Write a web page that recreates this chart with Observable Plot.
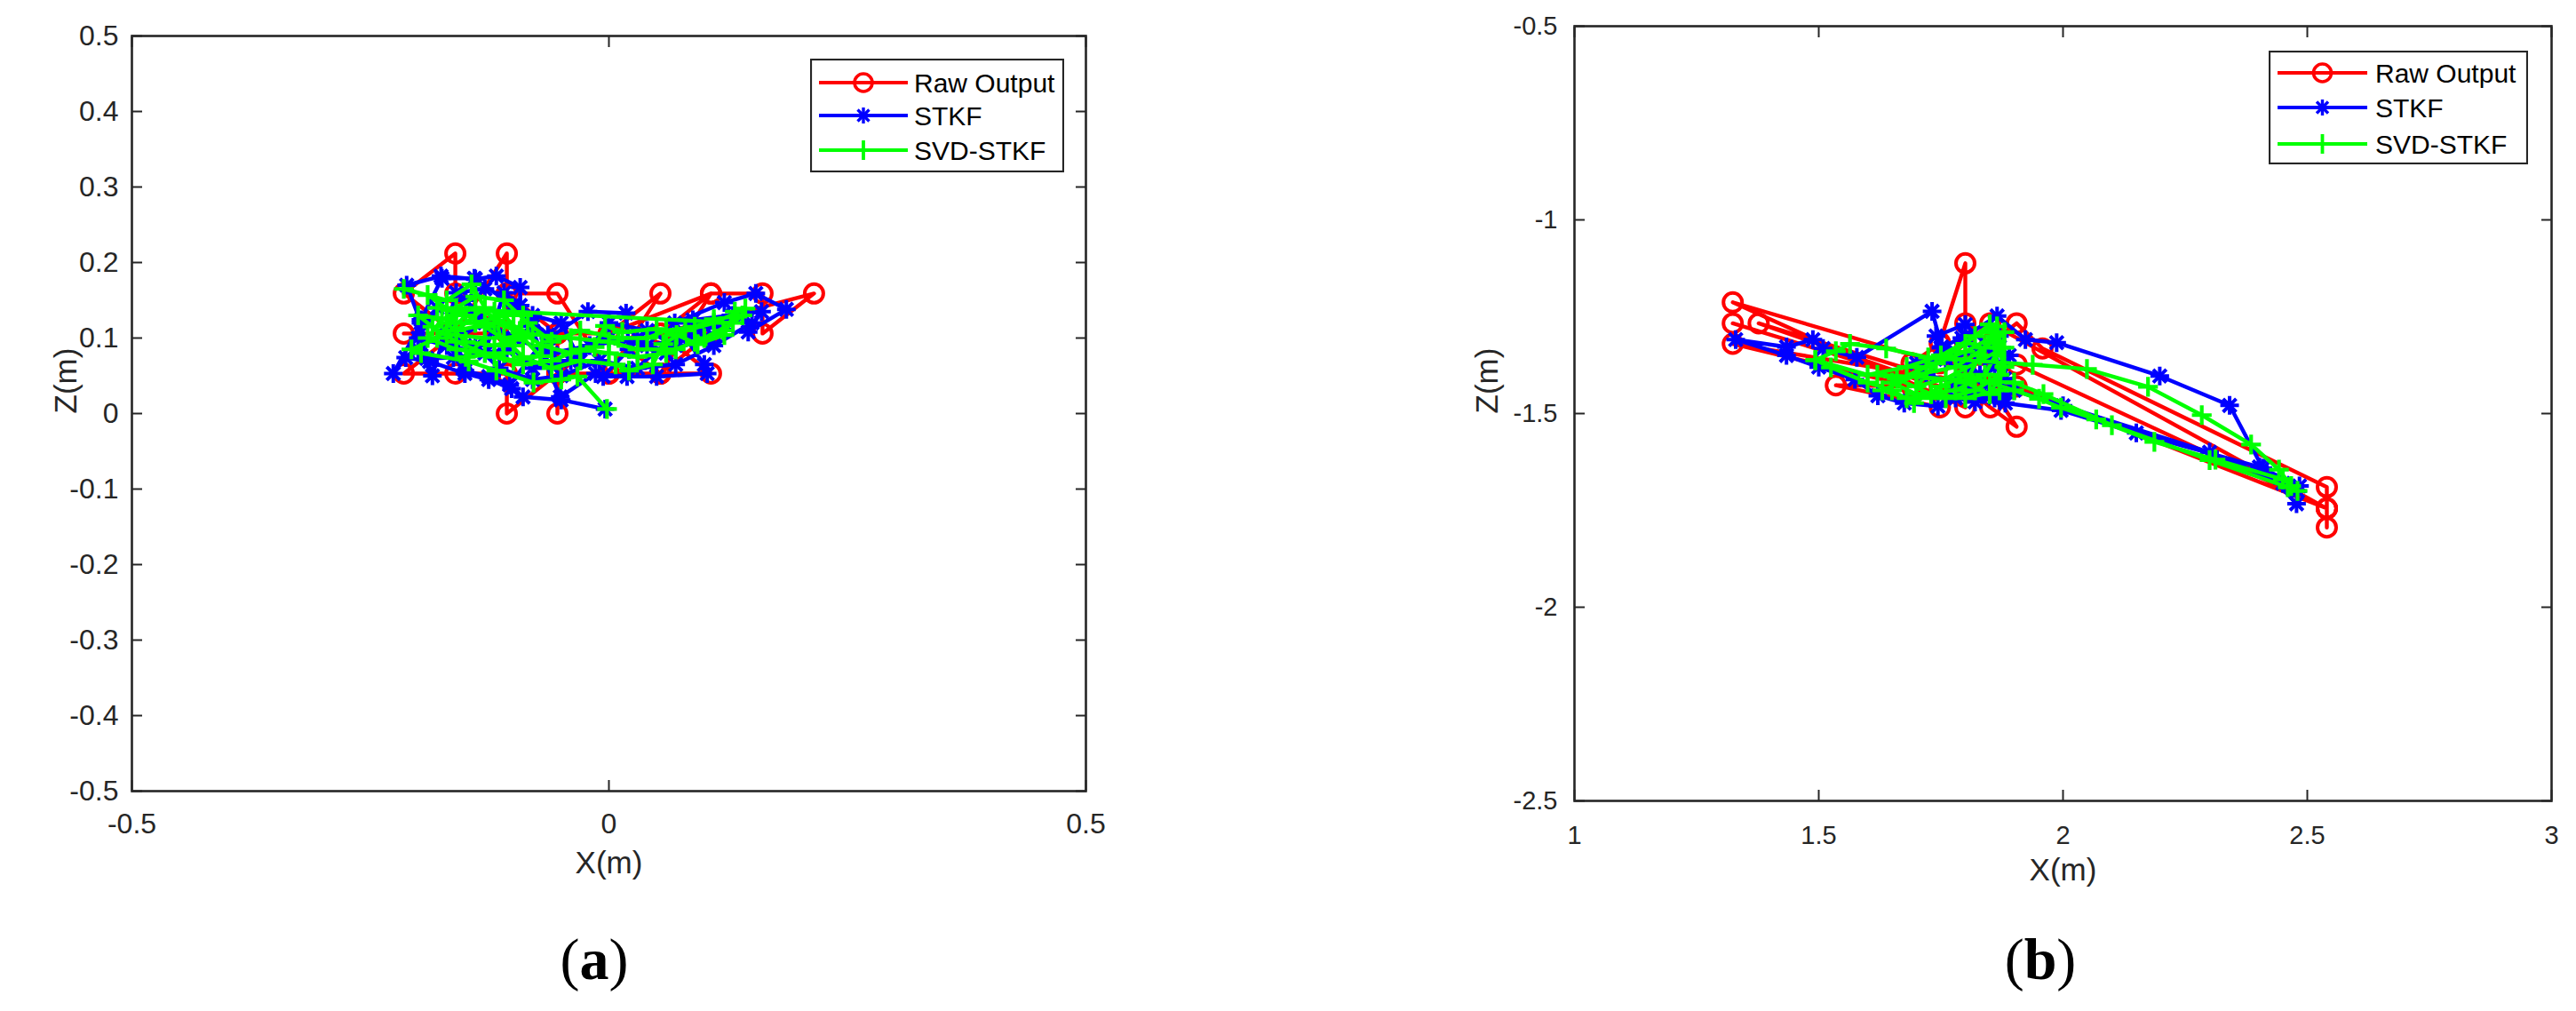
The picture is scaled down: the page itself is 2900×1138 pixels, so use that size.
<!DOCTYPE html>
<html><head><meta charset="utf-8">
<script src="https://cdn.jsdelivr.net/npm/d3@7"></script>
<script src="https://cdn.jsdelivr.net/npm/@observablehq/plot@0.6"></script>
<style>
body{margin:0;background:#fff;}
#root{position:relative;width:2900px;height:1138px;background:#fff;overflow:hidden;}
.panel{position:absolute;top:0;}
.plabel{position:absolute;font-family:"Liberation Serif","Times New Roman",serif;font-size:66px;transform:translate(-50%,-50%);white-space:nowrap;color:#000;line-height:1}
.legend{position:absolute;}
</style></head><body><div id="root"></div><script>
// ---------- shared ----------
const seriesNames = ["Raw Output", "STKF", "SVD-STKF"];
const seriesColors = ["#ff0000", "#0000ff", "#00ff00"];

// ---------- panel (a) ----------
const aXTicks = [-0.5, 0, 0.5];
const aXTickLabels = ["-0.5", "0", "0.5"];
const aYTicks = [-0.5, -0.4, -0.3, -0.2, -0.1, 0, 0.1, 0.2, 0.3, 0.4, 0.5];
const aYTickLabels = ["-0.5", "-0.4", "-0.3", "-0.2", "-0.1", "0", "0.1", "0.2", "0.3", "0.4", "0.5"];

const rawAX = [0, -0.054, -0.107, -0.054, 0, 0.054, 0, 0.054, 0.107, 0.161, 0.161, 0.215, 0.054, 0.107, 0.054, 0, -0.054, -0.107, -0.107, -0.161, -0.215, -0.161, -0.215, -0.161, -0.215, -0.161, -0.161, -0.107, -0.107, -0.161, -0.107, -0.107, -0.054, -0.054, -0.054, -0.054, 0, 0.107, 0.054, 0.107, 0.054, 0];
const rawAZ = [0.106, 0.106, 0.159, 0.159, 0.053, 0.159, 0.106, 0.053, 0.159, 0.159, 0.106, 0.159, 0.106, 0.053, 0.053, 0.053, 0.053, 0, 0.053, 0.053, 0.053, 0.106, 0.106, 0.106, 0.159, 0.212, 0.159, 0.106, 0.212, 0.106, 0.106, 0.159, 0.106, 0.053, 0, 0.053, 0.106, 0.159, 0.106, 0.106, 0.053, 0.106];

const stkfAX = [-0.004, -0.05, -0.09, -0.102, -0.126, -0.151, -0.188, -0.213, -0.226, -0.197, -0.212, -0.176, -0.14, -0.118, -0.093, -0.093, -0.063, -0.022, 0.018, 0.021, -0.006, 0.05, 0.103, 0.1, 0.069, 0.121, 0.154, 0.186, 0.146, 0.16, 0.088, 0.019, -0.014, -0.051, -0.082, -0.107, -0.163, -0.191, -0.197, -0.175, -0.141, -0.101, -0.064, -0.104, -0.126, -0.151, -0.16, -0.13, -0.15, -0.12, -0.08, -0.04, 0.0, 0.04, 0.08, 0.12, 0.14, 0.1, 0.06, 0.03, -0.02, -0.06, -0.1, -0.14, -0.18, -0.2, -0.17, -0.13, -0.11, -0.08, -0.05, -0.03, 0.0, 0.04, 0.07, 0.1, 0.13, 0.15, 0.11, 0.07, 0.03, -0.01, -0.05, -0.08, -0.115, -0.14, -0.17, -0.2, -0.185, -0.16, -0.13];
const stkfAZ = [0.006, 0.018, 0.022, 0.033, 0.045, 0.053, 0.069, 0.074, 0.053, 0.12, 0.17, 0.182, 0.178, 0.182, 0.167, 0.143, 0.1, 0.135, 0.133, 0.085, 0.049, 0.049, 0.053, 0.065, 0.12, 0.147, 0.159, 0.138, 0.108, 0.135, 0.124, 0.049, 0.053, 0.022, 0.116, 0.085, 0.074, 0.073, 0.124, 0.179, 0.179, 0.143, 0.104, 0.038, 0.049, 0.057, 0.1, 0.12, 0.15, 0.11, 0.06, 0.07, 0.1, 0.09, 0.1, 0.12, 0.13, 0.1, 0.08, 0.1, 0.09, 0.08, 0.1, 0.13, 0.14, 0.1, 0.09, 0.08, 0.16, 0.13, 0.12, 0.07, 0.12, 0.11, 0.09, 0.115, 0.13, 0.12, 0.09, 0.065, 0.06, 0.07, 0.05, 0.045, 0.06, 0.09, 0.11, 0.085, 0.05, 0.16, 0.165];

const svdAX = [-0.002, -0.033, -0.05, -0.079, -0.118, -0.147, -0.197, -0.207, -0.18, -0.16, -0.19, -0.215, -0.17, -0.144, -0.13, -0.16, -0.12, -0.093, -0.11, -0.14, -0.17, -0.15, -0.12, -0.09, -0.072, -0.1, -0.13, -0.16, -0.19, -0.175, -0.14, -0.1, -0.07, -0.04, -0.015, -0.004, 0.014, 0.05, 0.071, 0.093, 0.121, 0.132, 0.143, 0.11, 0.08, 0.057, 0.046, 0.021, 0.007, -0.03, -0.06, -0.09, -0.11, -0.08, -0.04, 0.0, 0.03, 0.07, 0.1, 0.13, -0.18, -0.15, -0.17, -0.13, -0.15, -0.11, -0.12, -0.09, -0.1, -0.13, -0.16, -0.14, -0.11, -0.085, -0.06, -0.03, 0.01, 0.04, 0.06, 0.09, 0.11, 0.14, 0.12, 0.09, 0.06, 0.03, 0.0, -0.03, -0.06, -0.09, -0.12, -0.16, -0.185, -0.2, -0.17];
const svdAZ = [0.006, 0.049, 0.045, 0.041, 0.057, 0.069, 0.08, 0.085, 0.1, 0.13, 0.157, 0.165, 0.15, 0.171, 0.14, 0.11, 0.12, 0.108, 0.13, 0.12, 0.12, 0.095, 0.09, 0.1, 0.076, 0.07, 0.08, 0.085, 0.1, 0.125, 0.14, 0.115, 0.09, 0.08, 0.088, 0.116, 0.108, 0.112, 0.104, 0.092, 0.104, 0.135, 0.139, 0.12, 0.11, 0.092, 0.065, 0.057, 0.065, 0.07, 0.06, 0.075, 0.1, 0.105, 0.1, 0.095, 0.085, 0.085, 0.1, 0.12, 0.14, 0.13, 0.105, 0.1, 0.075, 0.08, 0.135, 0.13, 0.09, 0.115, 0.14, 0.155, 0.15, 0.12, 0.095, 0.11, 0.1, 0.1, 0.11, 0.115, 0.125, 0.13, 0.11, 0.095, 0.08, 0.075, 0.08, 0.085, 0.07, 0.065, 0.075, 0.095, 0.115, 0.13, 0.125];

// ---------- panel (b) ----------
const bXTicks = [1, 1.5, 2, 2.5, 3];
const bXTickLabels = ["1", "1.5", "2", "2.5", "3"];
const bYTicks = [-2.5, -2, -1.5, -1, -0.5];
const bYTickLabels = ["-2.5", "-2", "-1.5", "-1", "-0.5"];

const rawBX = [1.8, 1.748, 1.8, 1.8, 1.851, 1.905, 1.958, 2.54, 2.54, 2.54, 2.54, 1.851, 1.8, 1.748, 1.324, 1.8, 1.748, 1.324, 1.748, 1.377, 1.8, 1.851, 1.905, 1.851, 1.324, 1.69, 1.535, 1.748, 1.8, 1.851, 1.905, 2.54, 1.905, 1.69, 1.748, 1.8];
const rawBZ = [-1.373, -1.317, -1.112, -1.267, -1.32, -1.267, -1.332, -1.69, -1.745, -1.794, -1.745, -1.267, -1.32, -1.37, -1.213, -1.484, -1.43, -1.267, -1.43, -1.267, -1.43, -1.484, -1.534, -1.43, -1.32, -1.43, -1.427, -1.484, -1.37, -1.43, -1.43, -1.745, -1.373, -1.37, -1.32, -1.373];

const stkfBX = [1.8, 1.75, 1.8, 1.865, 1.923, 1.987, 2.198, 2.341, 2.409, 2.478, 2.484, 2.402, 2.15, 1.996, 1.882, 1.8, 1.744, 1.675, 1.621, 1.574, 1.5, 1.434, 1.33, 1.434, 1.488, 1.509, 1.578, 1.732, 1.752, 1.793, 1.85, 1.88, 1.84, 1.78, 1.72, 1.7, 1.76, 1.82, 1.87, 1.86, 1.78, 1.82, 1.86, 1.83, 1.77, 1.74, 1.8, 1.85, 1.89, 1.87, 1.9, 2.0, 2.3, 2.45, 2.48];
const stkfBZ = [-1.38, -1.33, -1.3, -1.248, -1.309, -1.317, -1.403, -1.479, -1.641, -1.733, -1.687, -1.638, -1.55, -1.492, -1.473, -1.45, -1.481, -1.473, -1.454, -1.412, -1.38, -1.35, -1.309, -1.328, -1.309, -1.332, -1.355, -1.236, -1.328, -1.305, -1.36, -1.41, -1.45, -1.42, -1.4, -1.37, -1.36, -1.34, -1.3, -1.38, -1.46, -1.47, -1.46, -1.4, -1.35, -1.3, -1.27, -1.33, -1.35, -1.46, -1.44, -1.48, -1.6, -1.68, -1.7];

const svdBX = [1.493, 1.535, 1.564, 1.638, 1.724, 1.78, 1.938, 2.049, 2.174, 2.284, 2.385, 2.442, 2.467, 2.45, 2.312, 2.187, 2.068, 1.996, 1.951, 1.9, 1.85, 1.8, 1.75, 1.695, 1.65, 1.6, 1.525, 1.493, 1.6, 1.68, 1.75, 1.82, 1.865, 1.87, 1.84, 1.78, 1.7, 1.65, 1.72, 1.8, 1.86, 1.88, 1.85, 1.8, 1.83, 1.86, 1.88, 1.76, 1.7, 1.74, 1.8, 1.85, 1.87, 1.82, 1.76, 1.68, 1.63, 1.7, 1.78, 1.84, 1.88, 1.87, 1.8, 1.73, 1.66, 1.62, 1.9, 1.96, 2.1, 2.3, 2.46, 2.48];
const svdBZ = [-1.362, -1.339, -1.32, -1.332, -1.355, -1.36, -1.374, -1.385, -1.431, -1.504, -1.58, -1.645, -1.687, -1.67, -1.619, -1.573, -1.515, -1.485, -1.462, -1.44, -1.42, -1.4, -1.43, -1.473, -1.44, -1.42, -1.381, -1.362, -1.4, -1.38, -1.35, -1.3, -1.275, -1.33, -1.4, -1.44, -1.45, -1.42, -1.38, -1.34, -1.3, -1.38, -1.45, -1.42, -1.35, -1.29, -1.33, -1.41, -1.43, -1.37, -1.32, -1.27, -1.4, -1.44, -1.46, -1.46, -1.44, -1.4, -1.38, -1.33, -1.29, -1.44, -1.46, -1.45, -1.41, -1.4, -1.42, -1.45, -1.53, -1.62, -1.69, -1.7];

// ---------- drawing ----------
const rows = (xs, zs) => xs.map((x, i) => ({x, z: zs[i]}));
const fmtFrom = (ticks, labels) => d => { const i = ticks.findIndex(t => Math.abs(t - d) < 1e-9); return i >= 0 ? labels[i] : ""; };

function makePanel(p) {
  const raw = rows(p.rawX, p.rawZ), stkf = rows(p.stkfX, p.stkfZ), svd = rows(p.svdX, p.svdZ);
  const axisCol = "#262626";
  return Plot.plot({
    width: p.width, height: p.height,
    marginLeft: p.ml, marginRight: p.mr, marginTop: p.mt, marginBottom: p.mb,
    x: {domain: p.xDomain},
    y: {domain: p.yDomain},
    style: {fontFamily: "'Liberation Sans', Arial, Helvetica, sans-serif", background: "white", color: axisCol, overflow: "visible"},
    marks: [
      Plot.line(raw, {x: "x", y: "z", stroke: seriesColors[0], strokeWidth: 4.4, strokeLinejoin: "round"}),
      Plot.dot(raw, {x: "x", y: "z", symbol: "circle", r: 10.5, stroke: seriesColors[0], strokeWidth: 4, fill: "none"}),
      Plot.line(stkf, {x: "x", y: "z", stroke: seriesColors[1], strokeWidth: 4.4, strokeLinejoin: "round"}),
      Plot.dot(stkf, {x: "x", y: "z", symbol: "plus", r: 6.8, stroke: seriesColors[1], strokeWidth: 4}),
      Plot.dot(stkf, {x: "x", y: "z", symbol: "times", r: 6.8, stroke: seriesColors[1], strokeWidth: 4}),
      Plot.line(svd, {x: "x", y: "z", stroke: seriesColors[2], strokeWidth: 4.4, strokeLinejoin: "round"}),
      Plot.dot(svd, {x: "x", y: "z", symbol: "plus", r: 7.2, stroke: seriesColors[2], strokeWidth: 4.2}),
      Plot.frame({stroke: axisCol, strokeWidth: 2.6}),
      Plot.axisX(p.xTicks, {anchor: "bottom", tickSize: -12, tickPadding: p.xPad, strokeWidth: 2, fontSize: p.tickFont, tickFormat: fmtFrom(p.xTicks, p.xLabels), label: null, fill: axisCol}),
      Plot.axisX(p.xTicks, {anchor: "top", tickSize: -12, strokeWidth: 2, tickFormat: () => "", label: null}),
      Plot.axisY(p.yTicks, {anchor: "left", tickSize: -12, tickPadding: p.yPad, strokeWidth: 2, fontSize: p.tickFont, tickFormat: fmtFrom(p.yTicks, p.yLabels), label: null, fill: axisCol}),
      Plot.axisY(p.yTicks, {anchor: "right", tickSize: -12, strokeWidth: 2, tickFormat: () => "", label: null}),
      Plot.text(["X(m)"], {text: d => d, frameAnchor: "bottom", dy: p.xLabDy, fontSize: 35, fill: axisCol}),
      Plot.text(["Z(m)"], {text: d => d, frameAnchor: "left", dx: p.yLabDx, rotate: -90, fontSize: 35, fill: axisCol})
    ]
  });
}

function makeLegend(box) {
  const svg = d3.create("svg").attr("width", box.w).attr("height", box.h).attr("class", "legend")
    .style("left", box.left + "px").style("top", box.top + "px");
  svg.append("rect").attr("x", 1).attr("y", 1).attr("width", box.w - 2).attr("height", box.h - 2)
    .attr("fill", "white").attr("stroke", "#262626").attr("stroke-width", 2.2);
  seriesNames.forEach((name, i) => {
    const y = box.rows[i], c = seriesColors[i];
    svg.append("line").attr("x1", box.l0).attr("x2", box.l1).attr("y1", y).attr("y2", y).attr("stroke", c).attr("stroke-width", 3.8);
    const m = (box.l0 + box.l1) / 2;
    if (i === 0) svg.append("circle").attr("cx", m).attr("cy", y).attr("r", 10).attr("fill", "none").attr("stroke", c).attr("stroke-width", 3.6);
    if (i === 1) {
      const g = svg.append("g").attr("stroke", c).attr("stroke-width", 3.4);
      g.append("line").attr("x1", m).attr("x2", m).attr("y1", y - 9).attr("y2", y + 9);
      g.append("line").attr("x1", m - 9).attr("x2", m + 9).attr("y1", y).attr("y2", y);
      g.append("line").attr("x1", m - 6.5).attr("x2", m + 6.5).attr("y1", y - 6.5).attr("y2", y + 6.5);
      g.append("line").attr("x1", m - 6.5).attr("x2", m + 6.5).attr("y1", y + 6.5).attr("y2", y - 6.5);
    }
    if (i === 2) svg.append("line").attr("x1", m).attr("x2", m).attr("y1", y - 11).attr("y2", y + 11).attr("stroke", c).attr("stroke-width", 3.8);
    svg.append("text").attr("x", box.tx).attr("y", y).attr("dy", "0.36em").attr("font-size", 30)
      .attr("font-family", "'Liberation Sans', Arial, sans-serif").attr("fill", "#000").text(name);
  });
  return svg.node();
}

const root = document.getElementById("root");

const panelA = makePanel({
  width: 1300, height: 1010, ml: 148, mr: 78, mt: 40, mb: 120,
  xDomain: [-0.5, 0.5], yDomain: [-0.5, 0.5],
  xTicks: aXTicks, xLabels: aXTickLabels, yTicks: aYTicks, yLabels: aYTickLabels,
  rawX: rawAX, rawZ: rawAZ, stkfX: stkfAX, stkfZ: stkfAZ, svdX: svdAX, svdZ: svdAZ,
  tickFont: 32, xPad: 37, yPad: 27, xLabDy: 92, yLabDx: -74
});
panelA.classList.add("panel"); panelA.style.left = "0px";
root.appendChild(panelA);

const panelB = makePanel({
  width: 1300, height: 1010, ml: 172, mr: 28, mt: 29, mb: 109,
  xDomain: [1, 3], yDomain: [-2.5, -0.5],
  xTicks: bXTicks, xLabels: bXTickLabels, yTicks: bYTicks, yLabels: bYTickLabels,
  rawX: rawBX, rawZ: rawBZ, stkfX: stkfBX, stkfZ: stkfBZ, svdX: svdBX, svdZ: svdBZ,
  tickFont: 29, xPad: 40, yPad: 31, xLabDy: 89, yLabDx: -98
});
panelB.classList.add("panel"); panelB.style.left = "1600px";
root.appendChild(panelB);

root.appendChild(makeLegend({left: 912, top: 66, w: 286, h: 128, rows: [27, 64, 103], l0: 10, l1: 110, tx: 117}));
root.appendChild(makeLegend({left: 2554, top: 57, w: 292, h: 128, rows: [25, 64, 105], l0: 10, l1: 111, tx: 120}));

const la = document.createElement("div"); la.className = "plabel"; la.style.left = "669px"; la.style.top = "1080px";
la.innerHTML = "(<b>a</b>)"; root.appendChild(la);
const lb = document.createElement("div"); lb.className = "plabel"; lb.style.left = "2297px"; lb.style.top = "1080px";
lb.innerHTML = "(<b>b</b>)"; root.appendChild(lb);
</script></body></html>
